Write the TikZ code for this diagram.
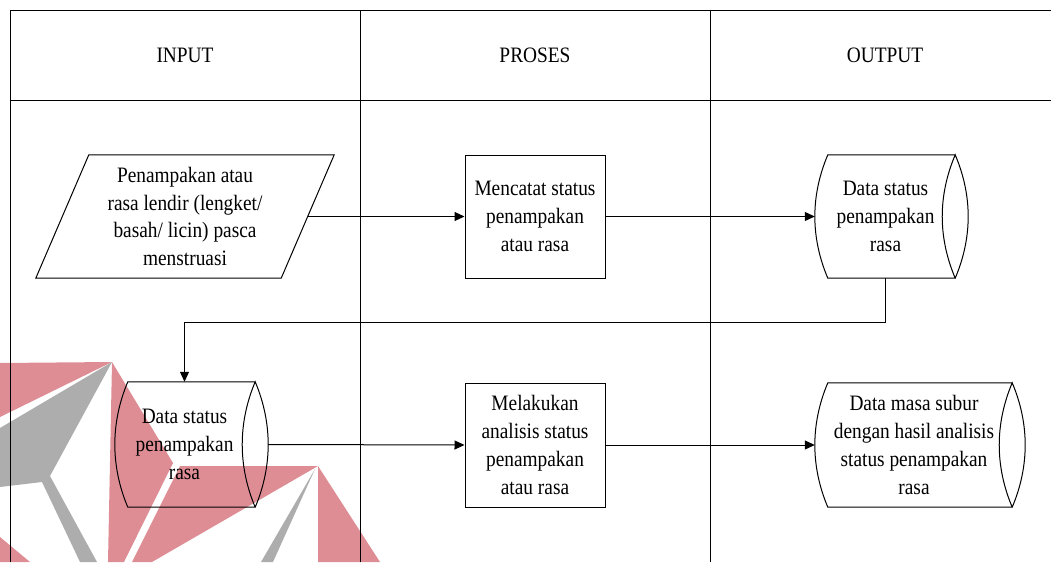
\documentclass[tikz,border=0pt]{standalone}
\usepackage{fontspec}
\setmainfont{Liberation Serif}[FakeStretch=0.88]
\usetikzlibrary{arrows.meta,calc}

\definecolor{emblemred}{RGB}{222,141,149}
\definecolor{emblemgrey}{RGB}{173,173,173}

\tikzset{
  lane/.style={line width=0.9pt, line cap=rect},
  shapeline/.style={line width=1pt, line join=miter},
  flow/.style={line width=1pt, -{Triangle[length=10pt,width=9pt]}},
  label/.style={align=center, inner sep=0pt, font=\fontsize{22}{27.7}\selectfont},
  body/.style={inner sep=0pt, draw=none},
  procbox/.style={label, draw, line width=1pt},
}

% horizontal stored-data symbol around a body node
\newcommand\storedata[1]{%
  \draw[shapeline] (#1.north east) -- (#1.north west)
    .. controls +(-17.3,41) and +(-17.3,-41) .. (#1.south west)
    -- (#1.south east)
    .. controls +(-17.3,-41) and +(-17.3,41) .. (#1.north east)
    .. controls +(17.3,41) and +(17.3,-41) .. (#1.south east);}

\begin{document}
\begin{tikzpicture}[x=1pt,y=-1pt]
\useasboundingbox (0,0) rectangle (1051,562);

% background emblem
\fill[emblemred] (0,363) -- (112,362) -- (0,417) -- cycle;
\fill[emblemgrey] (112,362) -- (0,428) -- (0,487) -- (42,482) -- (80,562) -- (97,562) -- (50,476) -- cycle;
\fill[emblemred] (112,362) -- (173,463) -- (124,562) -- (108,562) -- cycle;
\fill[emblemred] (0,537) -- (30,562) -- (0,562) -- cycle;
\fill[emblemred] (318,466) -- (180,466) -- (132,562) -- (152,562) -- cycle;
\fill[emblemgrey] (315,469) -- (261,562) -- (273,562) -- cycle;
\fill[emblemred] (318,466) -- (318,562) -- (380,562) -- cycle;

% swimlane table
\draw[lane] (10,562) -- (10,10) -- (1051,10);
\draw[lane] (10,100) -- (1051,100);
\draw[lane] (360,10) -- (360,562);
\draw[lane] (710,10) -- (710,562);

\node[label] (hin)  at (185,55) {INPUT};
\node[label] (hpro) at (535,55) {PROSES};
\node[label] (hout) at (885,55) {OUTPUT};

% first row
\node[label, minimum width=245, minimum height=123] (in1) at (185,216.5)
  {Penampakan atau\\rasa lendir (lengket/\\basah/ licin) pasca\\menstruasi};
\draw[shapeline] ([xshift=26.5pt]in1.north west) -- ([xshift=26.5pt]in1.north east)
  -- ([xshift=-26.5pt]in1.south east) -- ([xshift=-26.5pt]in1.south west) -- cycle;

\node[procbox, minimum width=140, minimum height=123] (p1) at (535,216.5)
  {Mencatat status\\penampakan\\atau rasa};

\node[body, minimum width=127, minimum height=123] (o1) at (891.5,216.5) {};
\storedata{o1}
\node[label] (o1t) at (885.5,216.5) {Data status\\penampakan\\rasa};

% second row
\node[body, minimum width=127, minimum height=125] (o2) at (191.5,444.5) {};
\storedata{o2}
\node[label] (o2t) at (184.5,444.5) {Data status\\penampakan\\rasa};

\node[procbox, minimum width=140, minimum height=124] (p2) at (535,445)
  {Melakukan\\analisis status\\penampakan\\atau rasa};

\node[body, minimum width=184, minimum height=124] (o3) at (920,445) {};
\storedata{o3}
\node[label] (o3t) at (914,445) {Data masa subur\\dengan hasil analisis\\status penampakan\\rasa};

% connectors
\draw[flow] (in1.east) -- (p1.west);
\draw[flow] (p1.east) -- ([xshift=-13pt]o1.west);
\draw[flow] (o1t |- o1.south) -- ++(0,44) -| (o2t |- o2.north);
\draw[flow] ([xshift=13pt]o2.east) -- (p2.west);
\draw[flow] (p2.east) -- ([xshift=-13pt]o3.west);
\end{tikzpicture}
\end{document}
